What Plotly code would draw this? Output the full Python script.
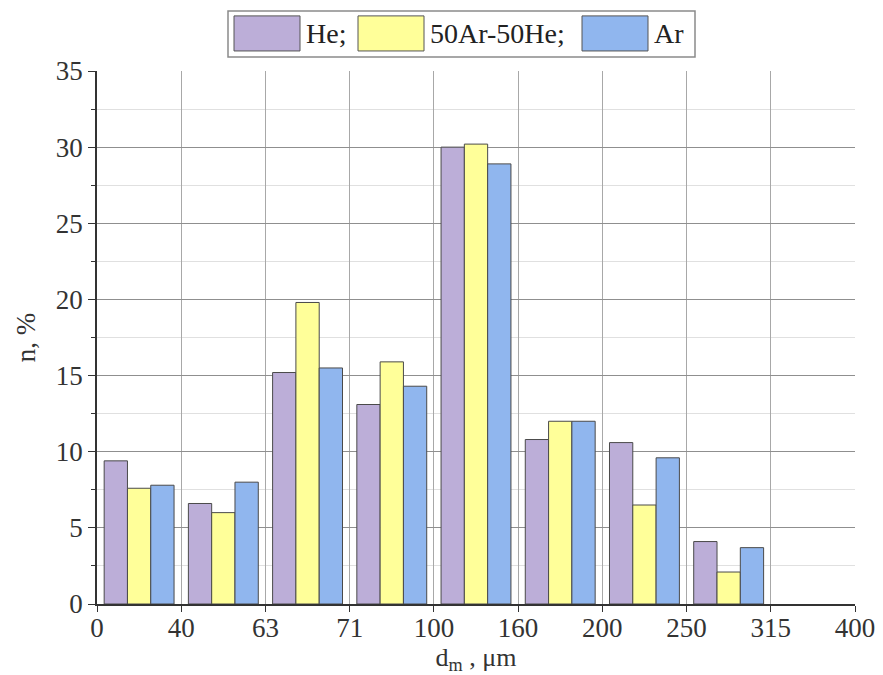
import plotly.graph_objects as go

# Size-class boundaries (tick labels) and bin positions
tick_labels = ["0", "40", "63", "71", "100", "160", "200", "250", "315", "400"]
bin_centers = [0.5, 1.5, 2.5, 3.5, 4.5, 5.5, 6.5, 7.5]

he = [9.4, 6.6, 15.2, 13.1, 30.0, 10.8, 10.6, 4.1]
mix = [7.6, 6.0, 19.8, 15.9, 30.2, 12.0, 6.5, 2.1]
ar = [7.8, 8.0, 15.5, 14.3, 28.9, 12.0, 9.6, 3.7]

names = ["He;", "50Ar-50He;", "Ar"]
colors = ["#bcaed8", "#ffff99", "#90b6ee"]
series = [he, mix, ar]

FONT = "Liberation Serif"
FS = 27

fig = go.Figure()
for name, col, vals in zip(names, colors, series):
    fig.add_trace(go.Bar(
        x=bin_centers, y=vals, name=name,
        marker=dict(color=col, line=dict(color="#4a4a4a", width=1)),
        showlegend=False,
    ))

# custom legend with large swatches (paper coordinates)
W, H, L, T = 758.0, 532.0, 97.0, 604.0
def px(x):
    return (x - L) / W
def py(y):
    return (T - y) / H

shapes = [dict(type="rect", xref="paper", yref="paper",
               x0=px(228), x1=px(695), y0=py(58), y1=py(12),
               line=dict(color="#8a8a8a", width=1.5), fillcolor="white", layer="above")]
annotations = []
swatch_x = [234, 358, 582]
for sx, name, col in zip(swatch_x, names, colors):
    shapes.append(dict(type="rect", xref="paper", yref="paper",
                       x0=px(sx), x1=px(sx + 66), y0=py(52), y1=py(17),
                       line=dict(color="#555555", width=1), fillcolor=col, layer="above"))
    annotations.append(dict(xref="paper", yref="paper", x=px(sx + 70), y=py(35),
                            text=name, showarrow=False, xanchor="left", yanchor="middle",
                            font=dict(family=FONT, size=28, color="#222")))

fig.update_layout(
    width=883, height=675,
    margin=dict(l=97, r=28, t=71, b=71),
    paper_bgcolor="white", plot_bgcolor="white",
    barmode="group", bargap=0.17, bargroupgap=0,
    font=dict(family=FONT, size=FS, color="#333"),
    shapes=shapes, annotations=annotations,
    xaxis=dict(
        range=[0, 9], tickmode="array", tickvals=list(range(len(tick_labels))),
        ticktext=tick_labels, ticks="outside", ticklen=6, tickcolor="#333",
        ticklabelstandoff=-7,
        showline=True, linecolor="#333", linewidth=1.5,
        showgrid=True, gridcolor="#a8a8a8", gridwidth=1.2,
        zeroline=False, automargin=False,
        title=dict(text="d<sub>m</sub> , μm", font=dict(family=FONT, size=26, color="#333"), standoff=4),
    ),
    yaxis=dict(
        range=[0, 35], dtick=5, ticks="outside", ticklen=7, tickcolor="#333",
        showline=True, linecolor="#333", linewidth=1.5,
        showgrid=True, gridcolor="#8f8f8f", gridwidth=1.2, zeroline=False,
        automargin=False,
        minor=dict(dtick=2.5, ticks="outside", ticklen=4, tickcolor="#333",
                   showgrid=True, gridcolor="#e0e0e0"),
        title=dict(text="n, %", font=dict(family=FONT, size=FS, color="#333"), standoff=12),
    ),
)

fig.write_html("out.html")
